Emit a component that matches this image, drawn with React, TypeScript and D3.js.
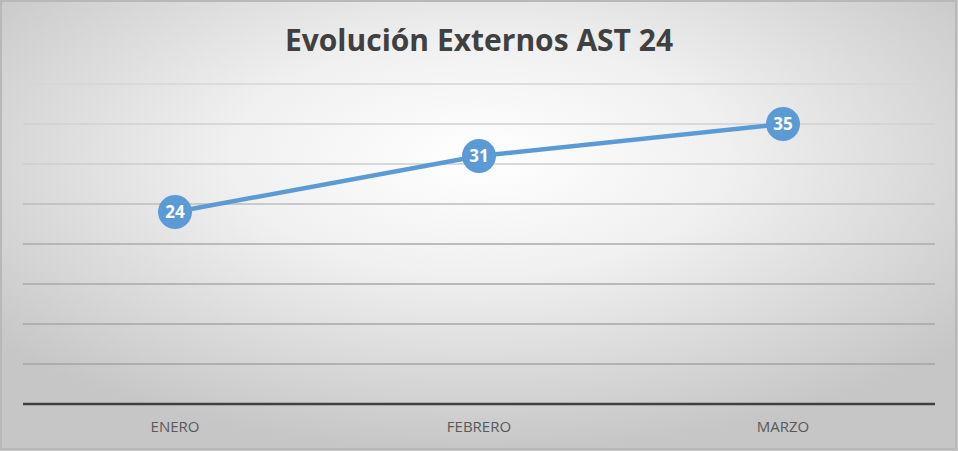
import React from "react";
import * as d3 from "d3";

const categories = ["ENERO", "FEBRERO", "MARZO"];
const values = [24, 31, 35];
const yTicks = [5, 10, 15, 20, 25, 30, 35, 40];
const title = "Evolución Externos AST 24";

const W = 958;
const H = 451;
const margin = { left: 23, right: 23, top: 84, bottom: 47 };

export default function App() {
  const x = d3
    .scaleBand<string>()
    .domain(categories)
    .range([margin.left, W - margin.right]);
  const y = d3
    .scaleLinear()
    .domain([0, 40])
    .range([H - margin.bottom, margin.top]);
  const pts = categories.map((c, i) => [x(c)! + x.bandwidth() / 2, y(values[i])] as [number, number]);
  const line = d3.line()(pts) || "";
  const gridColor = d3
    .scaleLinear<string>()
    .domain([40, 30, 20, 5])
    .range(["#d6d6d6", "#cccccc", "#ababab", "#a3a3a3"]);

  return (
    <svg
      width={W}
      height={H}
      style={{ position: "absolute", left: 0, top: 0, fontFamily: "'Open Sans', 'Noto Sans', sans-serif" }}
    >
      <defs>
        <radialGradient id="bg" cx="50%" cy="35%" r="65%" fx="50%" fy="35%">
          <stop offset="0%" stopColor="#ffffff" />
          <stop offset="40%" stopColor="#f0f0f0" />
          <stop offset="100%" stopColor="#c6c6c6" />
        </radialGradient>
      </defs>
      <rect x={0} y={0} width={W} height={H} fill="url(#bg)" />
      <rect x={1} y={1} width={W - 3} height={H - 3} fill="none" stroke="#b8b8b8" strokeWidth={2} />
      <text
        x={W / 2}
        y={51}
        textAnchor="middle"
        fontSize={30}
        fontWeight="bold"
        fill="#404040"
      >
        {title}
      </text>
      {yTicks.map((t) => (
        <line
          key={t}
          x1={margin.left}
          x2={W - margin.right}
          y1={y(t)}
          y2={y(t)}
          stroke={gridColor(t)}
          strokeWidth={1.5}
        />
      ))}
      <line
        x1={margin.left}
        x2={W - margin.right}
        y1={y(0)}
        y2={y(0)}
        stroke="#404040"
        strokeWidth={2.5}
      />
      {categories.map((c) => (
        <text
          key={c}
          x={x(c)! + x.bandwidth() / 2}
          y={y(0) + 28}
          textAnchor="middle"
          fontSize={15}
          fill="#595959"
        >
          {c}
        </text>
      ))}
      <path d={line} fill="none" stroke="#5b9bd5" strokeWidth={4.5} strokeLinecap="round" />
      {pts.map((p, i) => (
        <g key={i}>
          <circle cx={p[0]} cy={p[1]} r={17} fill="#5b9bd5" />
          <text
            x={p[0]}
            y={p[1] + 6}
            textAnchor="middle"
            fontSize={17}
            fontWeight="bold"
            fill="#ffffff"
          >
            {values[i]}
          </text>
        </g>
      ))}
    </svg>
  );
}
